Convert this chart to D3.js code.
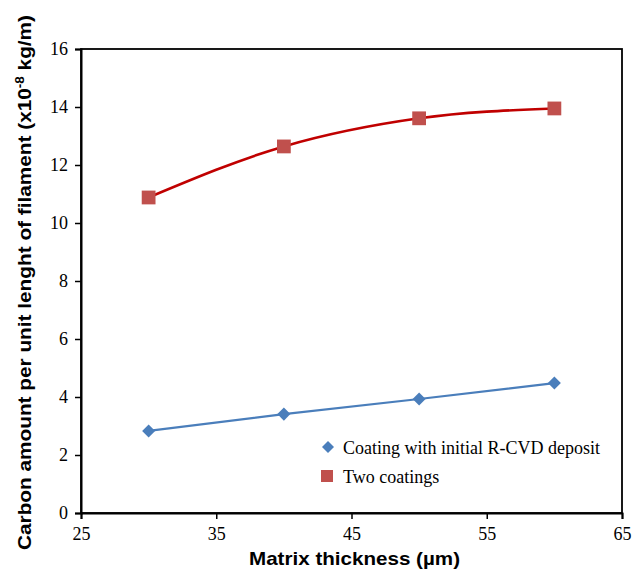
<!DOCTYPE html>
<html>
<head>
<meta charset="utf-8">
<script src="https://cdn.jsdelivr.net/npm/d3@7"></script>
<style>
  html, body { margin: 0; padding: 0; background: #fff; }
  svg { display: block; }
</style>
</head>
<body>
<svg id="chart" width="642" height="577"></svg>
<script>
// Matrix thickness (µm)
const thickness = [30, 40, 50, 60];
// Carbon amount per unit length (x10^-8 kg/m)
const initialRCVD = [2.83, 3.41, 3.93, 4.48];
const twoCoatings = [10.88, 12.64, 13.61, 13.95];

const xTicks = [25, 35, 45, 55, 65];
const yTicks = [0, 2, 4, 6, 8, 10, 12, 14, 16];
const seriesNames = ["Coating with initial R-CVD deposit", "Two coatings"];

const svg = d3.select("#chart");
const m = { left: 81, right: 622, top: 49, bottom: 513 };

const x = d3.scaleLinear().domain([25, 65]).range([m.left, m.right]);
const y = d3.scaleLinear().domain([0, 16]).range([m.bottom, m.top]);

const serif = "Liberation Serif, Times New Roman, serif";
const sans = "Liberation Sans, Arial, sans-serif";

// Plot frame (top and right edges)
svg.append("rect")
  .attr("x", m.left).attr("y", m.top)
  .attr("width", m.right - m.left).attr("height", m.bottom - m.top)
  .attr("fill", "none").attr("stroke", "#000").attr("stroke-width", 1.8);

// Axes
const xAxis = svg.append("g")
  .attr("transform", `translate(0,${m.bottom})`)
  .call(d3.axisBottom(x).tickValues(xTicks).tickSize(6).tickPadding(8).tickFormat(d3.format("d")));
const yAxis = svg.append("g")
  .attr("transform", `translate(${m.left},0)`)
  .call(d3.axisLeft(y).tickValues(yTicks).tickSize(6).tickPadding(7).tickFormat(d3.format("d")));

[xAxis, yAxis].forEach(g => {
  g.attr("font-family", serif).attr("font-size", 18);
  g.select(".domain").attr("stroke", "#000").attr("stroke-width", 2);
  g.selectAll(".tick line").attr("stroke", "#000").attr("stroke-width", 1.5);
  g.selectAll(".tick text").attr("fill", "#000")
    .attr("font-family", serif).attr("font-size", 18);
});

// Axis titles
svg.append("text")
  .attr("x", 354.5)
  .attr("y", 565)
  .attr("text-anchor", "middle")
  .attr("font-family", sans).attr("font-size", 18.5).attr("font-weight", "bold")
  .attr("textLength", 211).attr("lengthAdjust", "spacingAndGlyphs")
  .text("Matrix thickness (µm)");

const yTitle = svg.append("text")
  .attr("transform", "translate(31,282.5) rotate(-90)")
  .attr("text-anchor", "middle")
  .attr("font-family", sans).attr("font-size", 18.5).attr("font-weight", "bold")
  .attr("textLength", 535).attr("lengthAdjust", "spacingAndGlyphs");
yTitle.append("tspan").text("Carbon amount per unit lenght of filament  (x10");
yTitle.append("tspan").attr("dy", -7).attr("font-size", 12).text("-8");
yTitle.append("tspan").attr("dy", 7).text(" kg/m)");

// Series: blue straight line, red smooth curve
const ptsBlue = thickness.map((t, i) => [t, initialRCVD[i]]);
const ptsRed = thickness.map((t, i) => [t, twoCoatings[i]]);

svg.append("path")
  .datum(ptsBlue)
  .attr("fill", "none").attr("stroke", "#4a7ebb").attr("stroke-width", 2.2)
  .attr("d", d3.line().x(d => x(d[0])).y(d => y(d[1])));

svg.append("path")
  .datum(ptsRed)
  .attr("fill", "none").attr("stroke", "#c00000").attr("stroke-width", 2.6)
  .attr("d", d3.line().x(d => x(d[0])).y(d => y(d[1])).curve(d3.curveMonotoneX));

svg.append("g").selectAll("path")
  .data(ptsBlue).join("path")
  .attr("transform", d => `translate(${x(d[0])},${y(d[1])}) rotate(45)`)
  .attr("d", d3.symbol().type(d3.symbolSquare).size(85))
  .attr("fill", "#4a7ebb");

svg.append("g").selectAll("path")
  .data(ptsRed).join("path")
  .attr("transform", d => `translate(${x(d[0])},${y(d[1])})`)
  .attr("d", d3.symbol().type(d3.symbolSquare).size(190))
  .attr("fill", "#c0504d");

// Legend
const legend = svg.append("g");
legend.append("path")
  .attr("transform", "translate(328,447) rotate(45)")
  .attr("d", d3.symbol().type(d3.symbolSquare).size(72))
  .attr("fill", "#4a7ebb");
legend.append("path")
  .attr("transform", "translate(327,476)")
  .attr("d", d3.symbol().type(d3.symbolSquare).size(144))
  .attr("fill", "#c0504d");
legend.selectAll("text")
  .data(seriesNames).join("text")
  .attr("x", 343)
  .attr("y", (d, i) => 454 + i * 29)
  .attr("font-family", serif).attr("font-size", 18)
  .attr("fill", "#000")
  .text(d => d);
</script>
</body>
</html>
